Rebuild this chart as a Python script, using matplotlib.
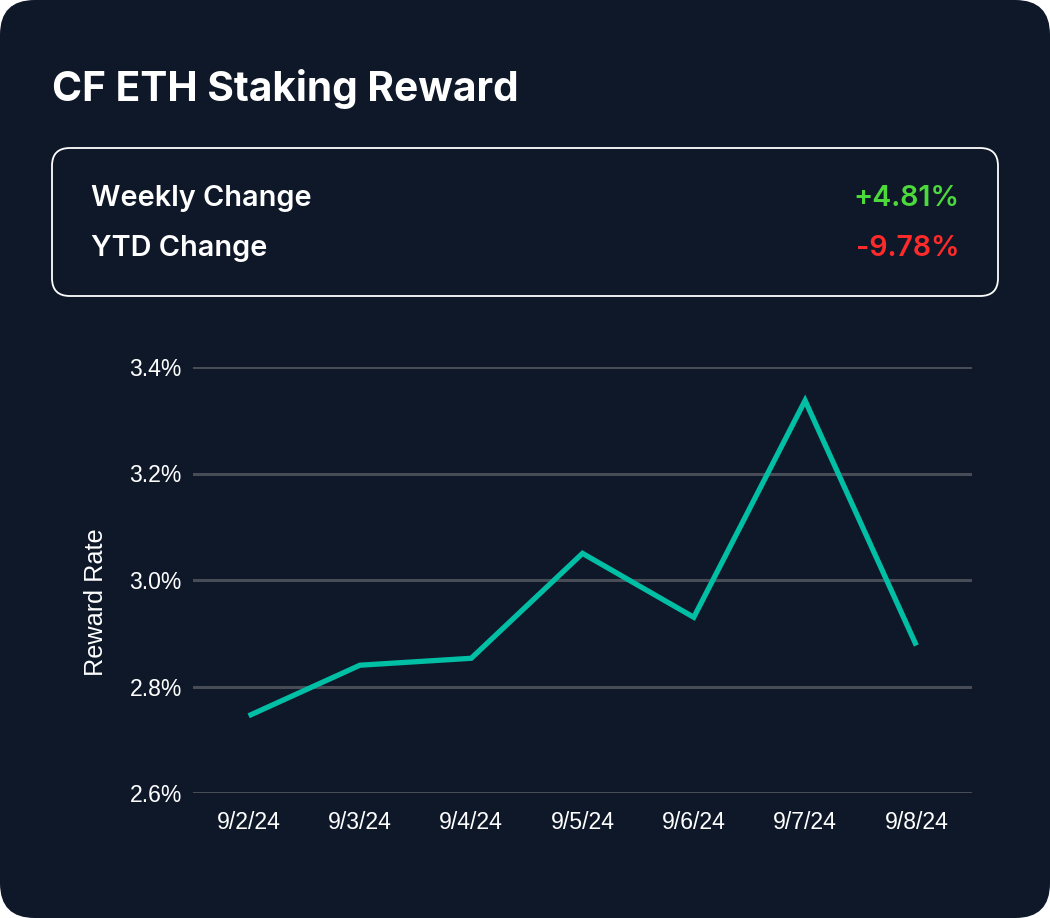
import matplotlib
matplotlib.use("Agg")
import matplotlib.pyplot as plt
from matplotlib.patches import FancyBboxPatch

# data
dates = ["9/2/24", "9/3/24", "9/4/24", "9/5/24", "9/6/24", "9/7/24", "9/8/24"]
reward_rate = [2.745, 2.840, 2.853, 3.050, 2.930, 3.337, 2.877]
y_ticks = [2.6, 2.8, 3.0, 3.2, 3.4]
summary_labels = ["Weekly Change", "YTD Change"]
summary_values = ["+4.81%", "-9.78%"]

bg = "#0f1829"
teal = "#00bfa5"
green = "#4cd93b"
red = "#ff2a2a"
grid = "#474c57"

fig = plt.figure(figsize=(10.5, 9.18), dpi=100)
fig.patch.set_facecolor("white")

# rounded dark card
card = FancyBboxPatch((0, 0), 1, 1, boxstyle="round,pad=0,rounding_size=0.033",
                      transform=fig.transFigure, facecolor=bg, edgecolor="none",
                      mutation_aspect=1050 / 918, zorder=-5)
fig.patches.append(card)

fig.text(52 / 1050, 1 - 89 / 918, "CF ETH Staking Reward", color="white",
         fontsize=29.3, fontfamily="Inter", fontweight="bold", va="center", ha="left")

# summary box
box = FancyBboxPatch((52 / 1050, 1 - 296 / 918), (998 - 52) / 1050, (296 - 148) / 918,
                     boxstyle="round,pad=0,rounding_size=0.017",
                     transform=fig.transFigure, facecolor="none", edgecolor="white",
                     linewidth=1.3, mutation_aspect=1050 / 918, zorder=-4)
fig.patches.append(box)

value_colors = [green, red]
for i, (lab, val) in enumerate(zip(summary_labels, summary_values)):
    yy = 1 - (198 + 50 * i) / 918
    fig.text(91 / 1050, yy, lab, color="white", fontsize=20.8, fontfamily="Inter",
             fontweight="semibold", va="center", ha="left")
    fig.text(959 / 1050, yy, val, color=value_colors[i], fontsize=20.5, fontfamily="Inter",
             fontweight="semibold", va="center", ha="right")

# chart
ax = fig.add_axes([193 / 1050, 1 - 793 / 918, (972 - 193) / 1050, (793 - 367) / 918])
ax.set_facecolor("none")
x = list(range(len(dates)))
ax.plot(x, reward_rate, color=teal, linewidth=3.8, solid_joinstyle="miter",
        solid_capstyle="butt", zorder=3)
ax.set_xlim(-0.5, len(dates) - 0.5)
ax.set_ylim(2.6, 3.4)
ax.set_yticks(y_ticks)
ax.set_yticklabels([f"{v:.1f}%" for v in y_ticks])
ax.set_xticks(x)
ax.set_xticklabels(dates)
ax.yaxis.grid(True, color=grid, linewidth=2.2)
ax.set_axisbelow(True)
for s in ax.spines.values():
    s.set_visible(False)
ax.tick_params(axis="both", length=0, colors="white", labelsize=16.6)
ax.tick_params(axis="y", pad=8)
ax.tick_params(axis="x", pad=13)
for t in ax.get_xticklabels() + ax.get_yticklabels():
    t.set_fontfamily("Liberation Sans")
ax.set_ylabel("Reward Rate", color="white", fontsize=18.2, fontfamily="Liberation Sans")
ax.yaxis.set_label_coords(-0.109, 0.448)

fig.savefig("out.png", dpi=100, facecolor=fig.get_facecolor())
